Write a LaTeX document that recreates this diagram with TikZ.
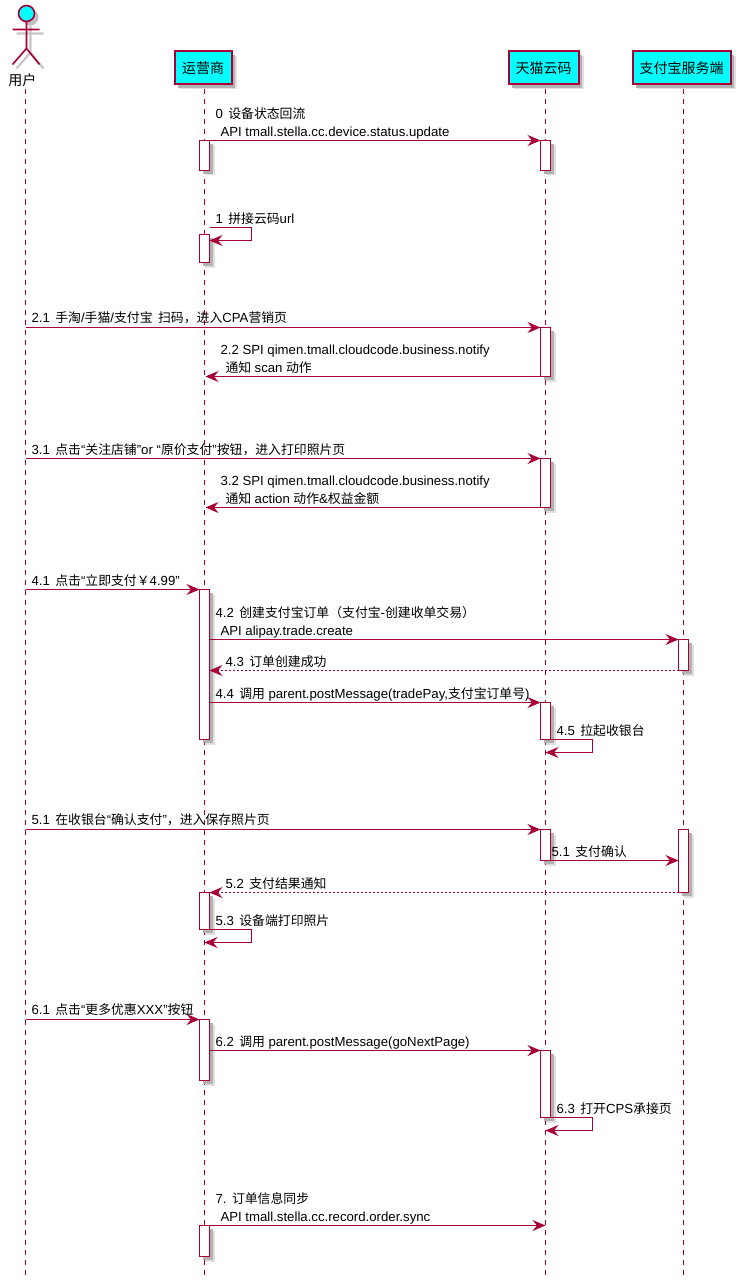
\documentclass[tikz,border=0pt]{standalone}
\usepackage{fontspec}
\setmainfont{Liberation Sans}
\newfontfamily\cjkf{Noto Sans CJK SC}
\newcommand{\cj}[1]{{\fontsize{12.85}{15}\selectfont\cjkf #1}}
\newcommand{\cjp}[1]{{\cjkf #1}}
\newcommand{\gp}{\hspace{5.5pt}}
\newcommand{\gq}{\hspace{3.5pt}}
\usetikzlibrary{arrows.meta,shadows}
\definecolor{pu}{HTML}{A80036}
\definecolor{cy}{HTML}{00FFFF}
\tikzset{
 softshadow/.style={general shadow={draw=none,fill=black!12,shadow xshift=5pt,shadow yshift=-5pt},general shadow={draw=none,fill=black!30,shadow xshift=3.5pt,shadow yshift=-3.5pt}},
 part/.style={draw=pu,line width=2pt,fill=cy,inner sep=0pt,outer sep=0pt,minimum height=33pt,softshadow,font=\fontsize{14}{16}\selectfont},
 act/.style={draw=pu,line width=1.2pt,fill=white,inner sep=0pt,outer sep=0pt,minimum width=10pt,softshadow},
 life/.style={draw=pu,line width=1.2pt,dash pattern=on 5pt off 5pt},
 msg/.style={draw=pu,line width=1.2pt,-{Stealth[length=13pt,width=11pt,inset=4.5pt]}},
 ret/.style={msg,dash pattern=on 2pt off 2pt},
 lbl/.style={anchor=base west,inner sep=0pt,outer sep=0pt,font=\fontsize{13.2}{15}\selectfont},
}
\newcommand{\acti}[4]{\pgfmathsetmacro{\ah}{#4-#3}\pgfmathsetmacro{\ay}{(#3+#4)/2}\node[act,minimum height=\ah pt] (#1) at (#2,\ay) {};}
\newcommand{\tl}[4]{\node[lbl] (#1) at (#2,#3+5.2) {#4};}
\begin{document}
\begin{tikzpicture}[x=1pt,y=-1pt]
\useasboundingbox (0,0) rectangle (740,1284);
\fill[white] (0,0) rectangle (740,1284);
\begin{scope}[shift={(0.5,0.5)}]
% lifelines
\coordinate (sa) at (25,89);
\coordinate (sb) at (204,89);
\coordinate (sc) at (545,89);
\coordinate (sd) at (683,89);
\coordinate (ea) at (25,1274);
\coordinate (eb) at (204,1274);
\coordinate (ec) at (545,1274);
\coordinate (ed) at (683,1274);
\draw[life] (sa)--(ea);
\draw[life] (sb)--(eb);
\draw[life] (sc)--(ec);
\draw[life] (sd)--(ed);
% participants
\node[part,minimum width=57pt] (pb) at (202.5,67.5) {\cjp{运营商}};
\node[part,minimum width=70pt] (pc) at (543,67.5) {\cjp{天猫云码}};
\node[part,minimum width=98pt] (pd) at (681,67.5) {\cjp{支付宝服务端}};
% actor
\begin{scope}[shift={(4,4)},draw=black!22,line width=2.2pt]
 \fill[black!25] (26,13) circle (8);
 \draw (26,21)--(26,48) (12,29)--(39,29) (12,64)--(26,48)--(39,64);
\end{scope}
\draw[draw=pu,line width=1.6pt,fill=cy] (26,13) circle (8);
\draw[draw=pu,line width=1.6pt] (26,21)--(26,48) (12,29)--(39,29) (12,64)--(26,48)--(39,64);
\node[inner sep=0pt,font=\fontsize{14}{16}\selectfont] (pa) at (22,80) {\cjp{用户}};
% activations
\acti{b0}{204}{140}{170}
\acti{c0}{545}{140}{170}
\acti{b1}{204}{234}{262}
\acti{c2}{545}{327}{376}
\acti{c3}{545}{458}{507}
\acti{b4}{204}{589}{739}
\acti{d4}{683}{639}{670}
\acti{c4}{545}{702}{739}
\acti{c5}{545}{829}{860}
\acti{d5}{683}{829}{892}
\acti{b5}{204}{892}{929}
\acti{b6}{204}{1019}{1080}
\acti{c6}{545}{1050}{1117}
\acti{b7}{204}{1225}{1256}
% free ends
\coordinate (u21) at (25,327);
\coordinate (u31) at (25,458);
\coordinate (u41) at (25,589);
\coordinate (u51) at (25,829);
\coordinate (u61) at (25,1019);
\coordinate (l22) at (205,376);
\coordinate (l32) at (205,507);
\coordinate (s1a) at (209,227);
\coordinate (s1b) at (251,227);
\coordinate (s1c) at (251,240);
\coordinate (s1d) at (209,240);
\coordinate (s45b) at (592,739);
\coordinate (s45c) at (592,752);
\coordinate (s45d) at (545,752);
\coordinate (s53b) at (251,929);
\coordinate (s53c) at (251,942);
\coordinate (s53d) at (204,942);
\coordinate (s63b) at (592,1117);
\coordinate (s63c) at (592,1130);
\coordinate (s63d) at (545,1130);
\coordinate (m42a) at (209,639);
\coordinate (m43b) at (209,670);
\coordinate (m44a) at (209,702);
\coordinate (m51b) at (550,860);
\coordinate (m62a) at (209,1050);
\coordinate (m7b) at (545,1225);
% messages
\draw[msg] (b0.north east)--(c0.north west);
\draw[msg] (s1a)--(s1b)--(s1c)--(s1d);
\draw[msg] (u21)--(c2.north west);
\draw[msg] (c2.south west)--(l22);
\draw[msg] (u31)--(c3.north west);
\draw[msg] (c3.south west)--(l32);
\draw[msg] (u41)--(b4.north west);
\draw[msg] (m42a)--(d4.north west);
\draw[ret] (d4.south west)--(m43b);
\draw[msg] (m44a)--(c4.north west);
\draw[msg] (c4.south east)--(s45b)--(s45c)--(s45d);
\draw[msg] (u51)--(c5.north west);
\draw[msg] (c5.south east)--(m51b -| d5.west);
\draw[ret] (d5.south west)--(b5.north east);
\draw[msg] (b5.south east)--(s53b)--(s53c)--(s53d);
\draw[msg] (u61)--(b6.north west);
\draw[msg] (m62a)--(c6.north west);
\draw[msg] (c6.south east)--(s63b)--(s63c)--(s63d);
\draw[msg] (b7.north east)--(m7b);
% labels
\tl{t0a}{215}{113}{0\gp\cj{设备状态回流}}
\tl{t0b}{220}{131}{API tmall.stella.cc.device.status.update}
\tl{t1}{215}{218}{1\gp\cj{拼接云码}url}
\tl{t21}{31}{317}{2.1\gp\cj{手淘}/\cj{手猫}/\cj{支付宝}\gp\cj{扫码，进入}CPA\cj{营销页}}
\tl{t22a}{220}{349}{2.2 SPI qimen.tmall.cloudcode.business.notify}
\tl{t22b}{225}{367}{\cj{通知}\gq scan\gq\cj{动作}}
\tl{t31}{31}{449}{3.1\gp\cj{点击}“\cj{关注店铺}”or “\cj{原价支付}”\cj{按钮，进入打印照片页}}
\tl{t32a}{220}{480}{3.2 SPI qimen.tmall.cloudcode.business.notify}
\tl{t32b}{225}{498}{\cj{通知}\gq action\gq\cj{动作}\&\cj{权益金额}}
\tl{t41}{31}{580}{4.1\gp\cj{点击}“\cj{立即支付￥}4.99”}
\tl{t42a}{215}{612}{4.2\gp\cj{创建支付宝订单（支付宝}-\cj{创建收单交易）}}
\tl{t42b}{220}{630}{API alipay.trade.create}
\tl{t43}{225}{661}{4.3\gp\cj{订单创建成功}}
\tl{t44}{215}{693}{4.4\gp\cj{调用}\gq parent.postMessage(tradePay,\cj{支付宝订单号})}
\tl{t45}{556}{730}{4.5\gp\cj{拉起收银台}}
\tl{t51}{31}{819}{5.1\gp\cj{在收银台}“\cj{确认支付}”\cj{，进入保存照片页}}
\tl{t51b}{551}{851}{5.1\gp\cj{支付确认}}
\tl{t52}{225}{883}{5.2\gp\cj{支付结果通知}}
\tl{t53}{215}{920}{5.3\gp\cj{设备端打印照片}}
\tl{t61}{31}{1009}{6.1\gp\cj{点击}“\cj{更多优惠}XXX”\cj{按钮}}
\tl{t62}{215}{1041}{6.2\gp\cj{调用}\gq parent.postMessage(goNextPage)}
\tl{t63}{556}{1108}{6.3\gp\cj{打开}CPS\cj{承接页}}
\tl{t7a}{215}{1198}{7.\gp\cj{订单信息同步}}
\tl{t7b}{220}{1216}{API tmall.stella.cc.record.order.sync}
\end{scope}
\end{tikzpicture}
\end{document}
